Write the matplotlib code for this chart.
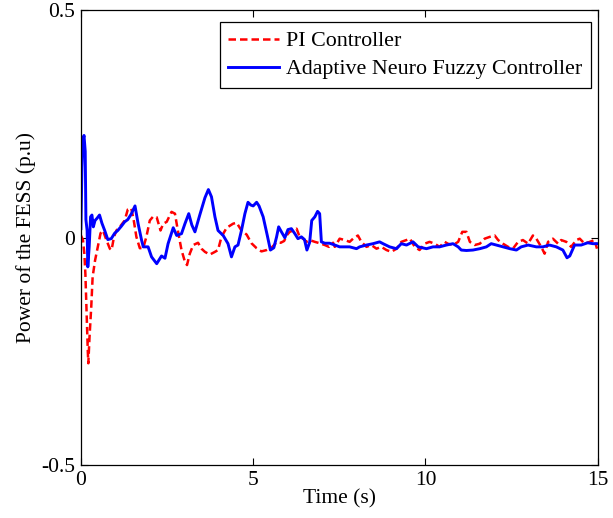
import matplotlib
matplotlib.use("Agg")
import matplotlib.pyplot as plt

# PI controller (red dashed)
pi_t = [0.0, 0.06, 0.1, 0.13, 0.17, 0.2, 0.215, 0.25, 0.3, 0.34, 0.41, 0.49, 0.57, 0.64,
        0.74, 0.84, 0.89, 0.96, 1.03, 1.13, 1.27, 1.36, 1.46, 1.53, 1.61, 1.71, 1.81, 1.9,
        2.0, 2.1, 2.2, 2.31, 2.39, 2.49, 2.63, 2.73, 2.82, 2.92, 3.02, 3.08, 3.16, 3.26,
        3.4, 3.5, 3.6, 3.74, 3.89, 3.98, 4.08, 4.23, 4.42, 4.52, 4.66, 4.81, 4.95, 5.1,
        5.24, 5.39, 5.53, 5.68, 5.8, 5.9, 5.97, 6.06, 6.16, 6.26, 6.35, 6.45, 6.55, 6.64,
        6.79, 6.93, 7.08, 7.2, 7.32, 7.37, 7.51, 7.66, 7.8, 7.9, 8.04, 8.14, 8.29, 8.43,
        8.58, 8.72, 8.87, 9.01, 9.16, 9.3, 9.45, 9.55, 9.69, 9.83, 9.98, 10.12, 10.27,
        10.41, 10.56, 10.65, 10.8, 10.95, 11.07, 11.19, 11.29, 11.43, 11.58, 11.72, 11.87,
        12.01, 12.11, 12.25, 12.4, 12.54, 12.69, 12.83, 12.98, 13.12, 13.22, 13.36, 13.46,
        13.56, 13.7, 13.85, 13.94, 14.09, 14.23, 14.38, 14.48, 14.62, 14.77, 14.91, 14.98]
pi_v = [0.005, -0.005, -0.035, -0.08, -0.18, -0.25, -0.276, -0.218, -0.152, -0.086, -0.05,
        -0.02, 0.01, 0.016, -0.005, -0.024, -0.027, 0.002, 0.016, 0.024, 0.038, 0.062,
        0.065, 0.04, 0.002, -0.023, -0.022, 0.002, 0.038, 0.047, 0.045, 0.016, 0.031,
        0.035, 0.057, 0.053, 0.013, -0.027, -0.053, -0.06, -0.035, -0.016, -0.011, -0.024,
        -0.031, -0.037, -0.031, -0.027, 0.002, 0.022, 0.031, 0.033, 0.016, 0.007, -0.012,
        -0.023, -0.03, -0.027, -0.022, -0.01, -0.011, -0.007, 0.005, 0.013, 0.016, 0.02,
        0.002, -0.002, -0.009, -0.005, -0.009, -0.012, -0.016, -0.02, -0.011, -0.02,
        -0.002, -0.005, -0.009, -0.002, 0.005, -0.009, -0.02, -0.016, -0.024, -0.02,
        -0.027, -0.031, -0.024, -0.009, -0.005, -0.002, -0.02, -0.027, -0.013, -0.009,
        -0.013, -0.02, -0.009, -0.013, -0.016, -0.009, 0.013, 0.013, -0.009, -0.016,
        -0.013, -0.002, 0.002, 0.005, -0.005, -0.013, -0.02, -0.024, -0.009, -0.005,
        -0.013, 0.005, -0.002, -0.02, -0.035, -0.009, -0.002, -0.013, -0.005, -0.009,
        -0.02, -0.005, -0.002, -0.013, -0.009, -0.005, -0.024]

# Adaptive neuro fuzzy controller (blue solid)
anfc_t = [0.0, 0.03, 0.06, 0.09, 0.125, 0.145, 0.18, 0.2, 0.24, 0.28, 0.32, 0.36, 0.41,
          0.47, 0.54, 0.61, 0.69, 0.78, 0.88, 0.98, 1.07, 1.17, 1.27, 1.36, 1.46, 1.57,
          1.66, 1.76, 1.81, 1.95, 2.05, 2.2, 2.34, 2.44, 2.53, 2.68, 2.78, 2.92, 3.02,
          3.13, 3.22, 3.31, 3.45, 3.6, 3.7, 3.79, 3.89, 3.98, 4.13, 4.27, 4.37, 4.47,
          4.56, 4.66, 4.76, 4.85, 4.93, 5.0, 5.1, 5.17, 5.29, 5.41, 5.5, 5.6, 5.68, 5.74,
          5.82, 5.92, 6.01, 6.11, 6.21, 6.3, 6.4, 6.49, 6.56, 6.64, 6.7, 6.79, 6.87, 6.93,
          6.98, 7.08, 7.22, 7.37, 7.51, 7.8, 8.0, 8.09, 8.29, 8.48, 8.67, 8.77, 8.96, 9.16,
          9.3, 9.45, 9.64, 9.79, 10.03, 10.22, 10.41, 10.61, 10.8, 10.95, 11.04, 11.19,
          11.38, 11.58, 11.77, 11.91, 12.06, 12.25, 12.45, 12.64, 12.78, 12.98, 13.22,
          13.41, 13.6, 13.8, 13.99, 14.11, 14.19, 14.33, 14.52, 14.71, 14.86, 14.98]
anfc_v = [0.02, 0.155, 0.214, 0.225, 0.19, 0.04, 0.016, -0.064, -0.02, 0.046, 0.05, 0.024,
          0.038, 0.043, 0.05, 0.032, 0.016, -0.004, -0.002, 0.01, 0.016, 0.025, 0.035,
          0.04, 0.052, 0.07, 0.031, -0.005, -0.02, -0.02, -0.042, -0.057, -0.04, -0.045,
          -0.013, 0.022, 0.005, 0.009, 0.031, 0.053, 0.028, 0.013, 0.05, 0.088, 0.106,
          0.09, 0.046, 0.016, 0.005, -0.013, -0.042, -0.02, -0.016, 0.016, 0.053, 0.078,
          0.072, 0.07, 0.078, 0.07, 0.046, 0.005, -0.027, -0.022, 0.002, 0.024, 0.013, 0.0,
          0.018, 0.02, 0.009, -0.002, 0.002, -0.004, -0.027, -0.01, 0.038, 0.046, 0.058,
          0.053, -0.009, -0.012, -0.012, -0.016, -0.02, -0.02, -0.024, -0.02, -0.016,
          -0.013, -0.009, -0.013, -0.02, -0.024, -0.013, -0.016, -0.009, -0.02, -0.024,
          -0.02, -0.02, -0.016, -0.013, -0.02, -0.027, -0.028, -0.027, -0.024, -0.02,
          -0.013, -0.016, -0.02, -0.024, -0.027, -0.02, -0.016, -0.02, -0.02, -0.016,
          -0.02, -0.027, -0.044, -0.04, -0.016, -0.016, -0.011, -0.013, -0.013]

x_ticks = [0, 5, 10, 15]
y_ticks = [-0.5, 0, 0.5]
y_tick_labels = ["-0.5", "0", "0.5"]

plt.rcParams['font.family'] = ['Liberation Serif', 'DejaVu Serif']
plt.rcParams['axes.unicode_minus'] = False

fig = plt.figure(figsize=(6.13, 5.18), dpi=100)
ax = fig.add_axes([0.132, 0.102, 0.843, 0.878])

ax.plot(pi_t, pi_v, color='red', linestyle='--', linewidth=1.8, dashes=(3, 1.6), label='PI Controller')
ax.plot(anfc_t, anfc_v, color='blue', linewidth=2.1, label='Adaptive Neuro Fuzzy Controller')

ax.set_xlim(0, 15)
ax.set_ylim(-0.5, 0.5)
ax.set_xticks(x_ticks)
ax.set_xticklabels([str(t) for t in x_ticks])
ax.set_yticks(y_ticks)
ax.set_yticklabels(y_tick_labels)
ax.tick_params(direction='in', top=True, right=True, labelsize=15.5, length=5, width=0.8, pad=4)
for s in ax.spines.values():
    s.set_linewidth(0.9)

ax.set_xlabel('Time (s)', fontsize=15.5, labelpad=0)
ax.set_ylabel('Power of the FESS (p.u)', fontsize=15.5, labelpad=4)

leg = ax.legend(loc='upper right', bbox_to_anchor=(0.988, 0.974), fontsize=15.8,
                fancybox=False, edgecolor='black', framealpha=1, handlelength=2.3,
                borderpad=0.4, labelspacing=0.35, handletextpad=0.35, borderaxespad=0)
leg.get_frame().set_linewidth(0.9)

fig.savefig('out.png', dpi=100)
